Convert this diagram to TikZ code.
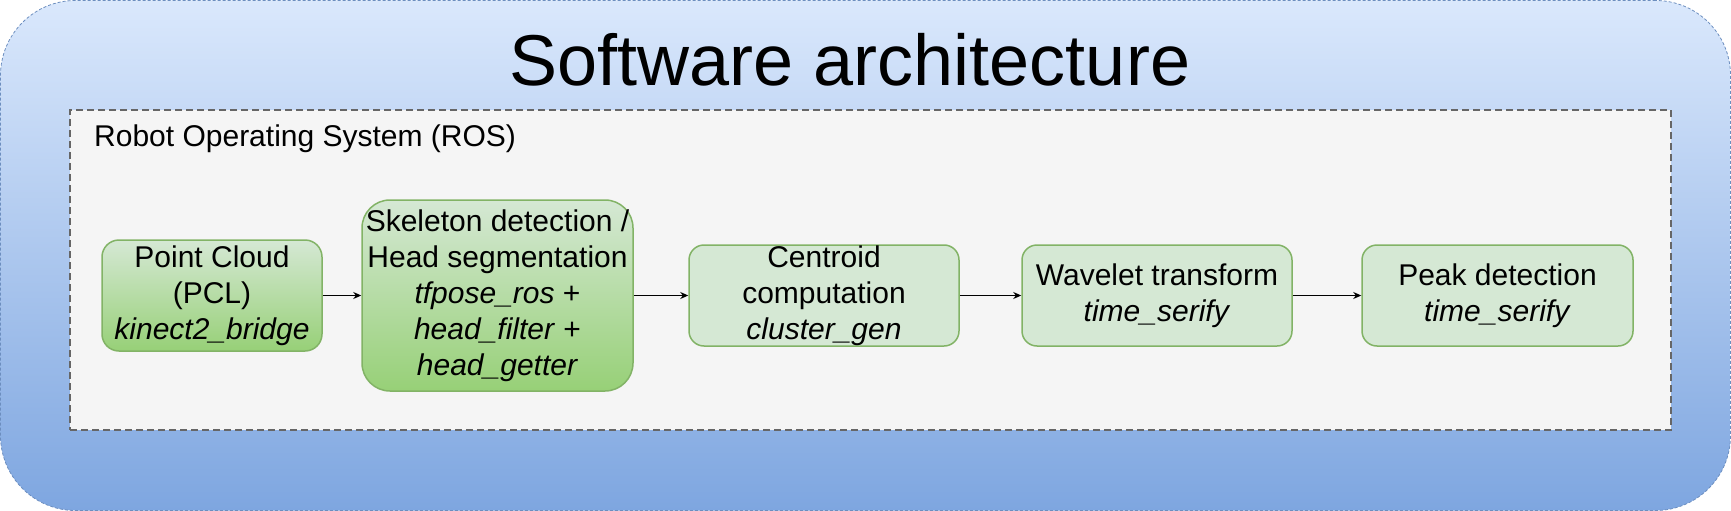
\documentclass[tikz,border=0pt]{standalone}
\usepackage{fontspec}
\setmainfont{Liberation Sans}
\usetikzlibrary{positioning,arrows.meta}
\definecolor{outertop}{HTML}{DAE8FC}
\definecolor{outerbottom}{HTML}{7EA6E0}
\definecolor{outerline}{HTML}{6C8EBF}
\definecolor{rosfill}{HTML}{F5F5F5}
\definecolor{rosline}{HTML}{666666}
\definecolor{procfill}{HTML}{D5E8D4}
\definecolor{procdark}{HTML}{97D077}
\definecolor{procline}{HTML}{82B366}
\tikzstyle{process} = [rectangle, rounded corners=15pt, minimum width=270pt, minimum height=101pt, inner sep=0pt, align=center, draw=procline, line width=1.5pt, fill=procfill, font=\fontsize{30}{36}\selectfont]
\tikzstyle{shaded process} = [process, top color=procfill, bottom color=procdark]
\tikzstyle{arrow} = [line width=1pt, -{Stealth[length=8pt,width=7pt]}]

\begin{document}
\begin{tikzpicture}[x=1pt,y=-1pt]
\useasboundingbox (0,0) rectangle (1731,511);
\node (outer) [rectangle, rounded corners=75pt, minimum width=1730pt, minimum height=510pt, inner sep=0pt, top color=outertop, bottom color=outerbottom, draw=outerline, line width=0.8pt, dash pattern=on 3pt off 2pt] at (865.5,255.5) {};
\node (title) [anchor=base, font=\fontsize{72}{86}\selectfont] at (850,85) {Software architecture};
\node (ros) [rectangle, minimum width=1601pt, minimum height=320pt, inner sep=0pt, fill=rosfill, draw=rosline, line width=1.5pt, dash pattern=on 7pt off 4pt] at (870.5,270) {};
\node (roslabel) [anchor=base west, inner sep=0pt, font=\fontsize{30}{36}\selectfont] at (94,146) {Robot Operating System (ROS)};

\node (pcl) [shaded process, minimum width=220pt, minimum height=111pt, rounded corners=17pt] at (212,295.5) {Point Cloud\\(PCL)\\\textit{kinect2\_bridge}};
\node (skeleton) [shaded process, right=38.5pt of pcl, minimum width=271pt, minimum height=191pt, rounded corners=28pt] {Skeleton detection /\\Head segmentation\\\textit{tfpose\_ros} +\\\textit{head\_filter} +\\\textit{head\_getter}};
\node (centroid) [process, right=54.5pt of skeleton] {Centroid\\computation\\\textit{cluster\_gen}};
\node (wavelet) [process, right=61.5pt of centroid] {Wavelet transform\\\textit{time\_serify}};
\node (peak) [process, right=68.5pt of wavelet, minimum width=271pt] {Peak detection\\\textit{time\_serify}};

\draw [arrow] (pcl) -- (skeleton);
\draw [arrow] (skeleton) -- (centroid);
\draw [arrow] (centroid) -- (wavelet);
\draw [arrow] (wavelet) -- (peak);
\end{tikzpicture}
\end{document}
